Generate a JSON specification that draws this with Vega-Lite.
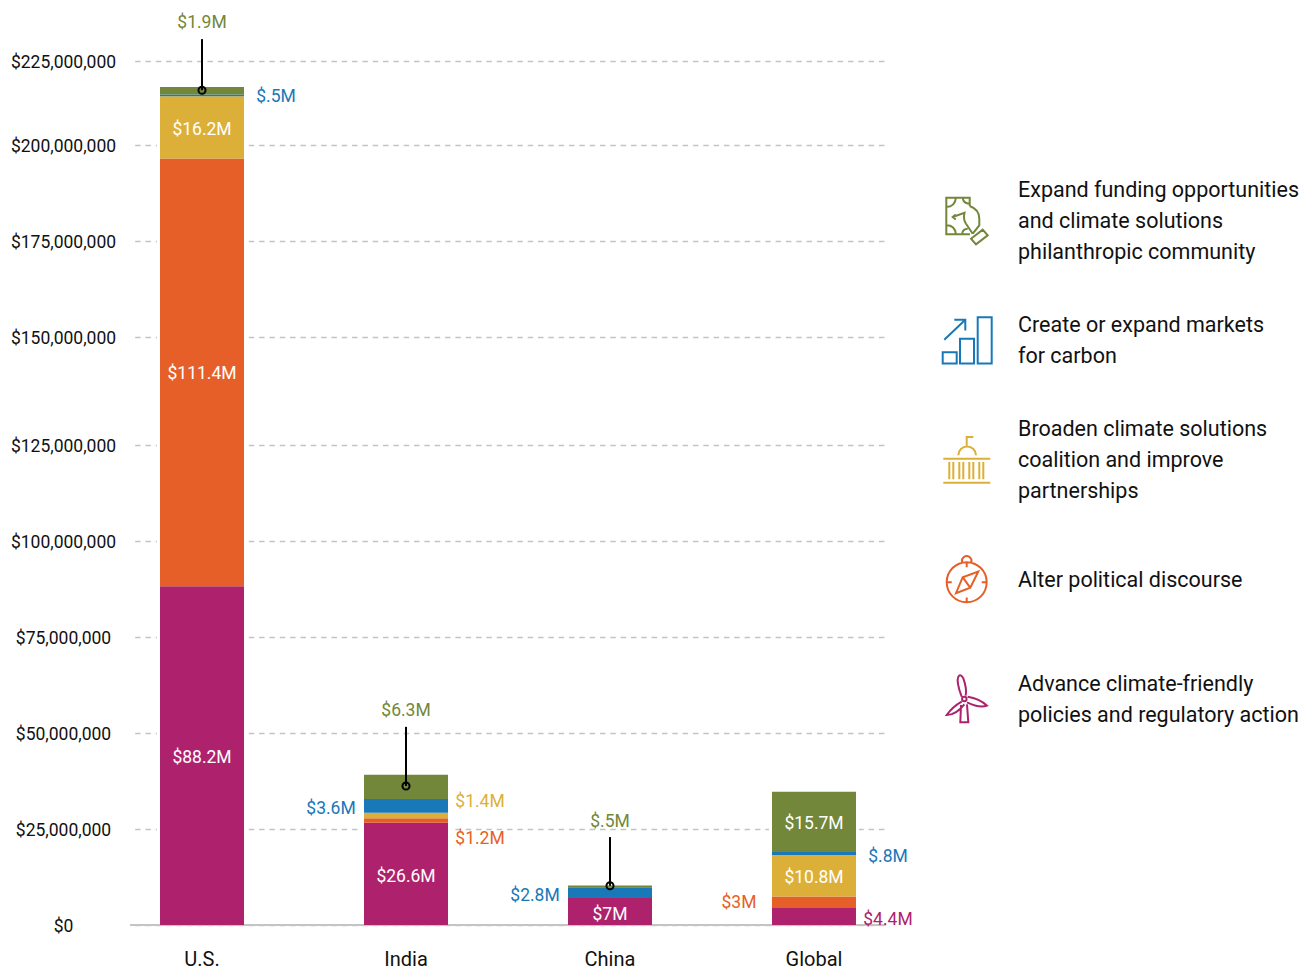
{"$schema":"https://vega.github.io/schema/vega-lite/v6.json","width":756,"height":925,"autosize":"none","padding":{"left":130,"top":0,"right":426,"bottom":44},"background":"white","config":{"view":{"stroke":null},"font":"Roboto"},"datasets":{"funding":[{"region":"U.S.","strategy":"Advance climate-friendly policies and regulatory action","rank":1,"amount":88.2},{"region":"U.S.","strategy":"Alter political discourse","rank":2,"amount":111.4},{"region":"U.S.","strategy":"Broaden climate solutions coalition and improve partnerships","rank":3,"amount":16.2},{"region":"U.S.","strategy":"Create or expand markets for carbon","rank":4,"amount":0.5},{"region":"U.S.","strategy":"Expand funding opportunities and climate solutions philanthropic community","rank":5,"amount":1.9},{"region":"India","strategy":"Advance climate-friendly policies and regulatory action","rank":1,"amount":26.6},{"region":"India","strategy":"Alter political discourse","rank":2,"amount":1.2},{"region":"India","strategy":"Broaden climate solutions coalition and improve partnerships","rank":3,"amount":1.4},{"region":"India","strategy":"Create or expand markets for carbon","rank":4,"amount":3.6},{"region":"India","strategy":"Expand funding opportunities and climate solutions philanthropic community","rank":5,"amount":6.3},{"region":"China","strategy":"Advance climate-friendly policies and regulatory action","rank":1,"amount":7},{"region":"China","strategy":"Create or expand markets for carbon","rank":4,"amount":2.8},{"region":"China","strategy":"Expand funding opportunities and climate solutions philanthropic community","rank":5,"amount":0.5},{"region":"Global","strategy":"Advance climate-friendly policies and regulatory action","rank":1,"amount":4.4},{"region":"Global","strategy":"Alter political discourse","rank":2,"amount":3},{"region":"Global","strategy":"Broaden climate solutions coalition and improve partnerships","rank":3,"amount":10.8},{"region":"Global","strategy":"Create or expand markets for carbon","rank":4,"amount":0.8},{"region":"Global","strategy":"Expand funding opportunities and climate solutions philanthropic community","rank":5,"amount":15.7}],"baseline":[{"value":0}],"labels":[{"region":"U.S.","text":"$1.9M","at":235.2,"side":"top","strategy":"Expand funding opportunities and climate solutions philanthropic community"},{"region":"U.S.","text":"$.5M","at":215.9,"side":"right","strategy":"Create or expand markets for carbon"},{"region":"U.S.","text":"$16.2M","at":207.3,"side":"inside","strategy":"Broaden climate solutions coalition and improve partnerships"},{"region":"U.S.","text":"$111.4M","at":143.75,"side":"inside","strategy":"Alter political discourse"},{"region":"U.S.","text":"$88.2M","at":43.75,"side":"inside","strategy":"Advance climate-friendly policies and regulatory action"},{"region":"India","text":"$6.3M","at":56,"side":"top","strategy":"Expand funding opportunities and climate solutions philanthropic community"},{"region":"India","text":"$3.6M","at":30.7,"side":"left","strategy":"Create or expand markets for carbon"},{"region":"India","text":"$1.4M","at":32.3,"side":"right","strategy":"Broaden climate solutions coalition and improve partnerships"},{"region":"India","text":"$1.2M","at":22.9,"side":"right","strategy":"Alter political discourse"},{"region":"India","text":"$26.6M","at":13,"side":"inside","strategy":"Advance climate-friendly policies and regulatory action"},{"region":"China","text":"$.5M","at":27.3,"side":"top","strategy":"Expand funding opportunities and climate solutions philanthropic community"},{"region":"China","text":"$2.8M","at":8.07,"side":"left","strategy":"Create or expand markets for carbon"},{"region":"China","text":"$7M","at":3.1,"side":"inside","strategy":"Advance climate-friendly policies and regulatory action"},{"region":"Global","text":"$15.7M","at":26.6,"side":"inside","strategy":"Expand funding opportunities and climate solutions philanthropic community"},{"region":"Global","text":"$.8M","at":18.2,"side":"right","strategy":"Create or expand markets for carbon"},{"region":"Global","text":"$10.8M","at":12.5,"side":"inside","strategy":"Broaden climate solutions coalition and improve partnerships"},{"region":"Global","text":"$3M","at":6,"side":"left","strategy":"Alter political discourse"},{"region":"Global","text":"$4.4M","at":1.8,"side":"right","strategy":"Advance climate-friendly policies and regulatory action"}],"leaders":[{"region":"U.S.","start":230.7,"end":217.4},{"region":"India","start":51.6,"end":36.2},{"region":"China","start":22.9,"end":10.2}]},"layer":[{"data":{"name":"funding"},"mark":{"type":"bar","size":90,"color":"white"},"encoding":{"x":{"field":"region","type":"nominal","sort":["U.S.","India","China","Global"],"scale":{"paddingInner":0.588,"paddingOuter":0.147},"axis":{"title":null,"domain":false,"ticks":false,"grid":false,"labelAngle":0,"labelFontSize":20,"labelColor":"#111","labelPadding":24}},"y":{"field":"amount","type":"quantitative","stack":"zero","scale":{"domain":[0,240.885],"nice":false},"axis":{"title":null,"domain":false,"ticks":false,"grid":true,"gridColor":"#c4c4c4","gridDash":[5.5,4.83],"gridDashOffset":5.7,"gridWidth":1.5,"values":[25,50,75,100,125,153.125,178.125,203.125,225,0],"labelExpr":"format(floor(datum.value/25)*25000000,'$,.0f')","labelAlign":"center","labelPadding":67,"labelOffset":1.5,"labelFontSize":17.5,"labelColor":"#111"}},"detail":{"field":"strategy"},"order":{"field":"rank"}}},{"data":{"name":"baseline"},"mark":{"type":"rule","color":"#c4c4c4","strokeWidth":2},"encoding":{"y":{"field":"value","type":"quantitative"}}},{"data":{"name":"funding"},"mark":{"type":"bar","size":84},"encoding":{"x":{"field":"region","type":"nominal","sort":["U.S.","India","China","Global"]},"y":{"field":"amount","type":"quantitative","stack":"zero"},"fill":{"field":"strategy","type":"nominal","legend":null,"scale":{"domain":["Advance climate-friendly policies and regulatory action","Alter political discourse","Broaden climate solutions coalition and improve partnerships","Create or expand markets for carbon","Expand funding opportunities and climate solutions philanthropic community"],"range":["#ae226d","#e65f28","#dcb038","#1878b8","#72873a"]}},"order":{"field":"rank"}}},{"data":{"name":"leaders"},"mark":{"type":"rule","color":"black","strokeWidth":2},"encoding":{"x":{"field":"region","type":"nominal","sort":["U.S.","India","China","Global"]},"y":{"field":"start","type":"quantitative"},"y2":{"field":"end"}}},{"data":{"name":"leaders"},"mark":{"type":"point","filled":false,"color":"black","strokeWidth":2,"size":50,"opacity":1},"encoding":{"x":{"field":"region","type":"nominal","sort":["U.S.","India","China","Global"]},"y":{"field":"end","type":"quantitative"}}},{"data":{"name":"labels"},"transform":[{"filter":"datum.side==='inside'"}],"mark":{"type":"text","color":"white","fontSize":17.5,"dy":1.5},"encoding":{"x":{"field":"region","type":"nominal","sort":["U.S.","India","China","Global"]},"y":{"field":"at","type":"quantitative"},"text":{"field":"text"}}},{"data":{"name":"labels"},"transform":[{"filter":"datum.side==='top'"}],"mark":{"type":"text","fontSize":17.5,"dy":1.5},"encoding":{"x":{"field":"region","type":"nominal","sort":["U.S.","India","China","Global"]},"y":{"field":"at","type":"quantitative"},"text":{"field":"text"},"fill":{"field":"strategy","type":"nominal","legend":null}}},{"data":{"name":"labels"},"transform":[{"filter":"datum.side==='right'"}],"mark":{"type":"text","fontSize":17.5,"dx":74,"dy":1.5},"encoding":{"x":{"field":"region","type":"nominal","sort":["U.S.","India","China","Global"]},"y":{"field":"at","type":"quantitative"},"text":{"field":"text"},"fill":{"field":"strategy","type":"nominal","legend":null}}},{"data":{"name":"labels"},"transform":[{"filter":"datum.side==='left'"}],"mark":{"type":"text","fontSize":17.5,"dx":-75,"dy":1.5},"encoding":{"x":{"field":"region","type":"nominal","sort":["U.S.","India","China","Global"]},"y":{"field":"at","type":"quantitative"},"text":{"field":"text"},"fill":{"field":"strategy","type":"nominal","legend":null}}},{"data":{"name":"funding"},"mark":{"type":"point","filled":false,"size":2500,"opacity":0},"encoding":{"x":{"field":"region","type":"nominal","sort":["U.S.","India","China","Global"]},"y":{"field":"amount","type":"quantitative","stack":"zero"},"stroke":{"field":"strategy","type":"nominal","scale":{"domain":["Expand funding opportunities and climate solutions philanthropic community","Create or expand markets for carbon","Broaden climate solutions coalition and improve partnerships","Alter political discourse","Advance climate-friendly policies and regulatory action"],"range":["#72873a","#1878b8","#dcb038","#e65f28","#ae226d"]},"legend":{"title":null,"orient":"none","legendX":811,"legendY":196,"padding":0,"columns":1,"gridAlign":"all","rowPadding":35.5,"symbolSize":2500,"symbolOpacity":1,"symbolStrokeWidth":2,"symbolFillColor":"transparent","labelOffset":25,"labelFontSize":21.5,"labelColor":"#111","labelLimit":400,"labelExpr":"{'Expand funding opportunities and climate solutions philanthropic community':['Expand funding opportunities','and climate solutions','philanthropic community'],'Create or expand markets for carbon':['Create or expand markets','for carbon'],'Broaden climate solutions coalition and improve partnerships':['Broaden climate solutions','coalition and improve','partnerships'],'Alter political discourse':['Alter political discourse'],'Advance climate-friendly policies and regulatory action':['Advance climate-friendly','policies and regulatory action']}[datum.label]","encoding":{"labels":{"lineHeight":{"value":31},"dy":{"value":{"expr":"datum.label==='Alter political discourse'?0:(datum.label==='Expand funding opportunities and climate solutions philanthropic community'||datum.label==='Broaden climate solutions coalition and improve partnerships'?-31:-15.5)"}}}}}},"shape":{"field":"strategy","type":"nominal","scale":{"domain":["Expand funding opportunities and climate solutions philanthropic community","Create or expand markets for carbon","Broaden climate solutions coalition and improve partnerships","Alter political discourse","Advance climate-friendly policies and regulatory action"],"range":["M0.108,-0.64 L0.108,-0.972 L-0.828,-0.972 L-0.828,0.492 L0.12,0.492 M-0.828,-0.6 Q-0.48,-0.6 -0.44,-0.972 M-0.828,0.132 Q-0.48,0.132 -0.44,0.492 M-0.172,-0.972 Q-0.15,-0.73 0.108,-0.732 M-0.2,0.492 Q-0.18,0.27 0.028,0.268 M0.108,-0.64 Q0.492,-0.5 0.492,-0.132 L0.492,0.132 L0.228,0.468 M-0.04,0.068 L0.228,0.468 M-0.04,0.068 Q-0.16,-0.1 -0.1,-0.372 Q-0.3,-0.3 -0.572,-0.2 L-0.45,-0.3 L-0.572,-0.2 L-0.45,-0.1 M0.16,0.668 L0.628,0.308 L0.828,0.532 L0.36,0.892 Z","M-0.972,0.428 H-0.412 V0.88 H-0.972 Z M-0.28,-0.108 H0.28 V0.88 H-0.28 Z M0.428,-0.972 H0.988 V0.88 H0.428 Z M-0.908,-0.068 L-0.068,-0.868 M-0.508,-0.868 H-0.068 V-0.44","M-0.012,-0.6 V-0.96 H0.252 M-0.348,-0.228 A0.354,0.354 0 0 1 0.36,-0.228 M-0.948,-0.092 H0.932 M-0.948,0.868 H0.932 M-0.708,0.04 V0.732 M-0.548,0.04 V0.732 M-0.308,0.04 V0.732 M-0.148,0.04 V0.732 M0.092,0.04 V0.732 M0.252,0.04 V0.732 M0.492,0.04 V0.732 M0.652,0.04 V0.732","M-0.812,0.068 A0.8,0.8 0 1 1 0.788,0.068 A0.8,0.8 0 1 1 -0.812,0.068 Z M-0.19,-0.72 A0.19,0.19 0 1 1 0.166,-0.72 M-0.012,-0.732 V-0.53 M-0.012,0.868 V0.68 M-0.812,0.068 H-0.61 M0.788,0.068 H0.59 M0.452,-0.36 L0.132,0.292 L-0.44,0.508 L-0.172,-0.132 Z M-0.172,-0.132 L0.132,0.292","M-0.213,-0.133 Q-0.44,-0.733 -0.347,-0.933 Q-0.267,-1.067 -0.147,-0.867 Q0,-0.467 -0.053,-0.173 M0.027,-0.133 Q0.493,-0.067 0.8,0.227 Q0.493,0.333 0,0.093 M-0.213,0.067 Q-0.573,0.267 -0.813,0.6 Q-0.44,0.6 -0.107,0.173 M-0.24,0.2 L-0.267,0.893 M0.053,0.893 L0,0.173 M-0.307,0.893 H0.093 M-0.197,-0.04 A0.09,0.09 0 1 1 -0.017,-0.04 A0.09,0.09 0 1 1 -0.197,-0.04 Z"]}},"order":{"field":"rank"}}}]}
